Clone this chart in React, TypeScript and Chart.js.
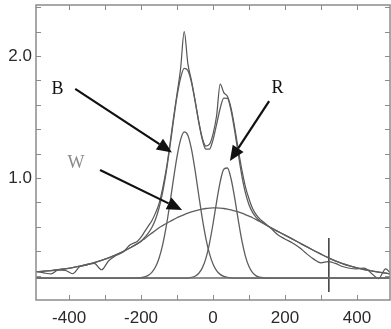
import { useEffect, useRef } from "react";
import { Chart, registerables } from "chart.js";

Chart.register(...registerables);

// ---- data ----
const xs = [
  -492, -470, -450, -430, -410, -390, -370, -350, -330, -310, -290, -270, -250, -230, -210,
  -200, -190, -180, -170, -160, -150, -140, -130, -120, -110, -100, -90, -80, -70, -60, -50, -40, -30, -20, -10,
  0, 10, 20, 30, 40, 50, 60, 70, 80, 90, 100, 110, 120, 130, 140,
  160, 180, 200, 220, 240, 260, 280, 300, 320, 340, 360, 380, 400, 420, 440, 460, 480, 492,
];

const observed = [
  0.234, 0.222, 0.214, 0.246, 0.242, 0.215, 0.275, 0.288, 0.3, 0.248, 0.322, 0.364, 0.394, 0.452, 0.482,
  0.515, 0.56, 0.605, 0.65, 0.712, 0.79, 0.915, 1.07, 1.27, 1.49, 1.69, 1.9, 2.2, 1.94, 1.8, 1.64, 1.47, 1.33, 1.262, 1.275,
  1.36, 1.51, 1.77, 1.7, 1.67, 1.575, 1.42, 1.24, 1.07, 0.93, 0.83, 0.75, 0.7, 0.665, 0.64,
  0.59, 0.535, 0.5, 0.47, 0.43, 0.38, 0.335, 0.305, 0.315, 0.3, 0.275, 0.26, 0.255, 0.262, 0.22, 0.175, 0.255, 0.225,
];

const fitTotal = [
  0.232, 0.236, 0.241, 0.248, 0.256, 0.265, 0.277, 0.291, 0.307, 0.325, 0.346, 0.37, 0.397, 0.428, 0.462,
  0.484, 0.513, 0.548, 0.594, 0.66, 0.754, 0.882, 1.05, 1.25, 1.467, 1.67, 1.822, 1.898, 1.883, 1.786, 1.633, 1.463, 1.319, 1.237, 1.236,
  1.313, 1.44, 1.572, 1.655, 1.653, 1.557, 1.392, 1.201, 1.022, 0.88, 0.781, 0.718, 0.677, 0.65, 0.629,
  0.594, 0.563, 0.532, 0.501, 0.469, 0.437, 0.406, 0.376, 0.347, 0.321, 0.298, 0.279, 0.263, 0.25, 0.239, 0.229, 0.22, 0.215,
];

const compB = [
  0.18, 0.18, 0.18, 0.18, 0.18, 0.18, 0.18, 0.18, 0.18, 0.18, 0.18, 0.18, 0.18, 0.18, 0.181,
  0.184, 0.19, 0.202, 0.226, 0.27, 0.342, 0.452, 0.603, 0.787, 0.988, 1.176, 1.315, 1.378, 1.351, 1.239, 1.067, 0.867, 0.673, 0.508, 0.382,
  0.295, 0.24, 0.21, 0.193, 0.186, 0.182, 0.18, 0.18, 0.18, 0.18, 0.18, 0.18, 0.18, 0.18, 0.18,
  0.18, 0.18, 0.18, 0.18, 0.18, 0.18, 0.18, 0.18, 0.18, 0.18, 0.18, 0.18, 0.18, 0.18, 0.18, 0.18, 0.18, 0.18,
];

const compR = [
  0.18, 0.18, 0.18, 0.18, 0.18, 0.18, 0.18, 0.18, 0.18, 0.18, 0.18, 0.18, 0.18, 0.18, 0.18,
  0.18, 0.18, 0.18, 0.18, 0.18, 0.18, 0.18, 0.18, 0.18, 0.18, 0.18, 0.18, 0.18, 0.18, 0.185, 0.195, 0.217, 0.261, 0.339, 0.461,
  0.623, 0.805, 0.969, 1.072, 1.082, 0.996, 0.841, 0.659, 0.49, 0.36, 0.274, 0.224, 0.198, 0.187, 0.182,
  0.18, 0.18, 0.18, 0.18, 0.18, 0.18, 0.18, 0.18, 0.18, 0.18, 0.18, 0.18, 0.18, 0.18, 0.18, 0.18, 0.18, 0.18,
];

const compW = [
  0.232, 0.236, 0.241, 0.248, 0.256, 0.265, 0.277, 0.291, 0.307, 0.325, 0.346, 0.37, 0.397, 0.428, 0.462,
  0.48, 0.503, 0.526, 0.548, 0.57, 0.592, 0.61, 0.627, 0.643, 0.659, 0.674, 0.687, 0.7, 0.712, 0.722, 0.731, 0.739, 0.745, 0.75, 0.753,
  0.755, 0.755, 0.753, 0.75, 0.745, 0.739, 0.731, 0.722, 0.712, 0.7, 0.687, 0.674, 0.659, 0.643, 0.627,
  0.594, 0.563, 0.532, 0.501, 0.469, 0.437, 0.406, 0.376, 0.347, 0.321, 0.298, 0.279, 0.263, 0.25, 0.239, 0.229, 0.22, 0.215,
];

const baselineLevel = 0.18;
const markerX = 322;
const markerRange = [0.066, 0.508];

const xRange = [-492, 492];
const yRange = [0, 2.418];
const xMinorTicks = [-400, -300, -200, -100, 0, 100, 200, 300, 400];
const xTickLabels = [-400, -200, 0, 200, 400];
const yMinorTicks = [0.2, 0.4, 0.6, 0.8, 1.0, 1.2, 1.4, 1.6, 1.8, 2.0, 2.2, 2.4];
const yTickLabels = [1.0, 2.0];

// annotation letters and arrows (data coordinates)
const labelNames = ["B", "R", "W"];
const labelPos = [
  [-432, 1.73],
  [179, 1.735],
  [-381, 1.12],
];
const labelColors = ["#111111", "#111111", "#8a8a8a"];
const arrowFrom = [
  [-383, 1.73],
  [156, 1.63],
  [-314, 1.066],
];
const arrowTo = [
  [-114, 1.21],
  [47, 1.14],
  [-86, 0.738],
];

const pts = (arr: number[]) => xs.map((x, i) => ({ x, y: arr[i] }));

export default function App() {
  const ref = useRef<HTMLCanvasElement | null>(null);

  useEffect(() => {
    document.body.style.margin = "0";
    const canvas = ref.current;
    if (!canvas) return;

    const curve = "#5e5e5e";
    const lineDs = (data: { x: number; y: number }[], color = curve, width = 1.3) => ({
      data,
      borderColor: color,
      borderWidth: width,
      pointRadius: 0,
      fill: false,
      cubicInterpolationMode: "monotone" as const,
    });

    const framePlugin = {
      id: "frame",
      afterDatasetsDraw(chart: any) {
        const { ctx, chartArea, scales } = chart;
        const { left, right, top, bottom } = chartArea;
        const sx = scales.x;
        const sy = scales.y;
        ctx.save();
        // frame
        ctx.strokeStyle = "#8c8c8c";
        ctx.lineWidth = 1.5;
        ctx.strokeRect(left, top, right - left, bottom - top);
        // ticks
        ctx.lineWidth = 1;
        ctx.strokeStyle = "#8c8c8c";
        ctx.beginPath();
        xMinorTicks.forEach((v) => {
          const px = Math.round(sx.getPixelForValue(v)) + 0.5;
          ctx.moveTo(px, bottom);
          ctx.lineTo(px, bottom - 5);
          ctx.moveTo(px, top);
          ctx.lineTo(px, top + 5);
        });
        yMinorTicks.forEach((v) => {
          const py = Math.round(sy.getPixelForValue(v)) + 0.5;
          ctx.moveTo(left, py);
          ctx.lineTo(left + 5, py);
          ctx.moveTo(right, py);
          ctx.lineTo(right - 5, py);
        });
        ctx.stroke();
        // tick labels
        ctx.fillStyle = "#2a2a2a";
        ctx.font = "17px 'Liberation Sans', Arial, sans-serif";
        ctx.textAlign = "center";
        ctx.textBaseline = "middle";
        xTickLabels.forEach((v) => {
          ctx.fillText(String(v), sx.getPixelForValue(v), bottom + 18);
        });
        ctx.textAlign = "right";
        yTickLabels.forEach((v) => {
          ctx.fillText(v.toFixed(1), left - 4, sy.getPixelForValue(v));
        });
        // arrows
        ctx.strokeStyle = "#111111";
        ctx.fillStyle = "#111111";
        ctx.lineWidth = 2.2;
        arrowFrom.forEach((f, i) => {
          const x1 = sx.getPixelForValue(f[0]);
          const y1 = sy.getPixelForValue(f[1]);
          const x2 = sx.getPixelForValue(arrowTo[i][0]);
          const y2 = sy.getPixelForValue(arrowTo[i][1]);
          const ang = Math.atan2(y2 - y1, x2 - x1);
          const hl = 15;
          const hw = 6.5;
          const bx = x2 - hl * Math.cos(ang);
          const by = y2 - hl * Math.sin(ang);
          ctx.beginPath();
          ctx.moveTo(x1, y1);
          ctx.lineTo(bx, by);
          ctx.stroke();
          ctx.beginPath();
          ctx.moveTo(x2, y2);
          ctx.lineTo(bx + hw * Math.sin(ang), by - hw * Math.cos(ang));
          ctx.lineTo(bx - hw * Math.sin(ang), by + hw * Math.cos(ang));
          ctx.closePath();
          ctx.fill();
        });
        // letters
        ctx.font = "18px 'Liberation Serif', 'DejaVu Serif', serif";
        ctx.textAlign = "center";
        ctx.textBaseline = "middle";
        labelNames.forEach((n, i) => {
          ctx.fillStyle = labelColors[i];
          ctx.fillText(n, sx.getPixelForValue(labelPos[i][0]), sy.getPixelForValue(labelPos[i][1]));
        });
        ctx.restore();
      },
    };

    const chart = new Chart(canvas, {
      type: "line",
      data: {
        datasets: [
          lineDs([{ x: xRange[0], y: baselineLevel }, { x: xRange[1], y: baselineLevel }], "#6a6a6a", 1.4),
          lineDs(pts(compB)),
          lineDs(pts(compR)),
          lineDs(pts(compW)),
          lineDs(pts(fitTotal)),
          lineDs(pts(observed), "#555555", 1.2),
          lineDs(
            [
              { x: markerX, y: markerRange[0] },
              { x: markerX, y: markerRange[1] },
            ],
            "#444444",
            1.6
          ),
        ],
      },
      options: {
        animation: false,
        responsive: false,
        devicePixelRatio: 1,
        layout: { padding: { left: 36, top: 5, right: 1, bottom: 29 } },
        plugins: { legend: { display: false }, tooltip: { enabled: false } },
        scales: {
          x: { type: "linear", min: xRange[0], max: xRange[1], display: false },
          y: { type: "linear", min: yRange[0], max: yRange[1], display: false },
        },
      },
      plugins: [framePlugin],
    });

    return () => chart.destroy();
  }, []);

  return (
    <div style={{ position: "fixed", left: 0, top: 0, width: 391, height: 329, background: "#fff" }}>
      <canvas ref={ref} width={391} height={329} style={{ display: "block" }} />
    </div>
  );
}
